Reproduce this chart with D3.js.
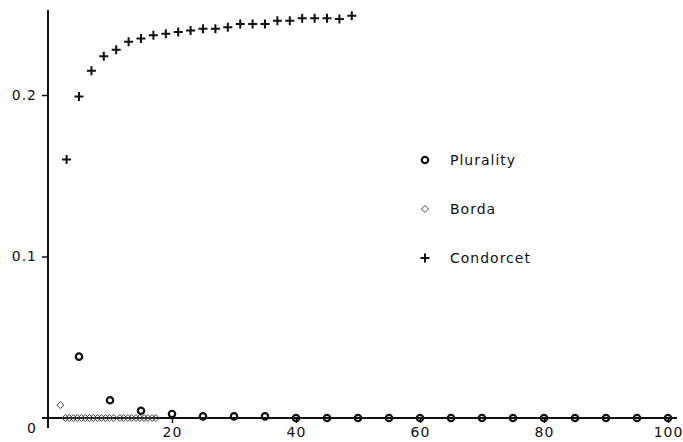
<!DOCTYPE html>
<html>
<head>
<meta charset="utf-8">
<script src="https://cdn.jsdelivr.net/npm/d3@7"></script>
<style>
  body { margin: 0; background: #fff; }
  text { font-family: "DejaVu Sans", sans-serif; font-size: 14px; fill: #111; letter-spacing: 1px; }
</style>
</head>
<body>
<script>
// values
var pluralityX = [5, 10, 15, 20, 25, 30, 35, 40, 45, 50, 55, 60, 65, 70, 75, 80, 85, 90, 95, 100];
var pluralityY = [0.038, 0.011, 0.0045, 0.0025, 0.001, 0.001, 0.001, 0, 0, 0, 0, 0, 0, 0, 0, 0, 0, 0, 0, 0];

var bordaX = [2, 2.8, 3.4, 4.1, 4.7, 5.4, 6, 6.7, 7.3, 8, 8.6, 9.3, 9.9, 10.6,
              11.6, 12.2, 12.9, 13.5, 14.2, 14.8, 15.5, 16.1, 16.8, 17.4];
var bordaY = [0.008, 0, 0, 0, 0, 0, 0, 0, 0, 0, 0, 0, 0, 0,
              0, 0, 0, 0, 0, 0, 0, 0, 0, 0];

var condorcetX = [3, 5, 7, 9, 11, 13, 15, 17, 19, 21, 23, 25, 27, 29, 31, 33, 35, 37, 39, 41, 43, 45, 47, 49];
var condorcetY = [0.160, 0.199, 0.215, 0.224, 0.228, 0.233, 0.235, 0.237, 0.238, 0.239, 0.240, 0.241,
                  0.241, 0.242, 0.244, 0.244, 0.244, 0.246, 0.246, 0.2475, 0.2475, 0.2475, 0.247, 0.249];

var xTicks = [20, 40, 60, 80, 100];
var yTicks = [0.1, 0.2];
var seriesNames = ["Plurality", "Borda", "Condorcet"];

var svg = d3.select("body").append("svg")
    .attr("width", 683)
    .attr("height", 442);

var x = d3.scaleLinear().domain([0, 100]).range([48, 668]);
var y = d3.scaleLinear().domain([0, 0.2]).range([418, 95]);

// axes
svg.append("line")
    .attr("x1", x(0)).attr("x2", x(0))
    .attr("y1", 10).attr("y2", y(0) + 10)
    .attr("stroke", "#111").attr("stroke-width", 2);
svg.append("line")
    .attr("x1", x(0) - 6).attr("x2", 677)
    .attr("y1", y(0)).attr("y2", y(0))
    .attr("stroke", "#111").attr("stroke-width", 2)
    .attr("shape-rendering", "crispEdges");

var xAxis = svg.append("g")
    .attr("transform", "translate(0," + y(0) + ")")
    .call(d3.axisBottom(x).tickValues(xTicks).tickSize(5).tickPadding(3).tickFormat(d3.format("d")));
var yAxis = svg.append("g")
    .attr("transform", "translate(" + x(0) + ",0)")
    .call(d3.axisLeft(y).tickValues(yTicks).tickSize(6).tickPadding(5).tickFormat(d3.format(".1f")));

[xAxis, yAxis].forEach(function (a) {
    a.select(".domain").remove();
    a.selectAll(".tick line").attr("stroke", "#111").attr("stroke-width", 1.5);
    a.selectAll("text").attr("font-family", null).attr("font-size", null).attr("fill", null);
});
xAxis.selectAll("text").attr("dy", "0.8em");

svg.append("text")
    .attr("x", 37).attr("y", y(0) + 15)
    .attr("text-anchor", "end")
    .text("0");

// marker shapes
function circleMark(g) {
    g.append("circle").attr("r", 3.2)
        .attr("fill", "none").attr("stroke", "#111").attr("stroke-width", 2.2);
}
function diamondMark(g) {
    g.append("path").attr("d", "M0,-3.5 L3.5,0 L0,3.5 L-3.5,0 Z")
        .attr("fill", "none").attr("stroke", "#444").attr("stroke-width", 1);
}
function plusMark(g) {
    g.append("path").attr("d", "M-4.5,0 H4.5 M0,-4.5 V4.5")
        .attr("fill", "none").attr("stroke", "#111").attr("stroke-width", 2);
}
var marks = [circleMark, diamondMark, plusMark];

function drawSeries(xs, ys, mark) {
    svg.append("g").selectAll("g")
        .data(d3.range(xs.length))
        .enter()
        .append("g")
            .attr("transform", function (i) { return "translate(" + x(xs[i]) + "," + y(ys[i]) + ")"; })
            .each(function () { mark(d3.select(this)); });
}

drawSeries(bordaX, bordaY, diamondMark);
drawSeries(pluralityX, pluralityY, circleMark);
drawSeries(condorcetX, condorcetY, plusMark);

// legend
var legend = svg.append("g").attr("transform", "translate(425,160)");
seriesNames.forEach(function (name, i) {
    var row = legend.append("g").attr("transform", "translate(0," + (i * 49) + ")");
    marks[i](row);
    row.append("text").attr("x", 25).attr("y", 5).text(name);
});
</script>
</body>
</html>
